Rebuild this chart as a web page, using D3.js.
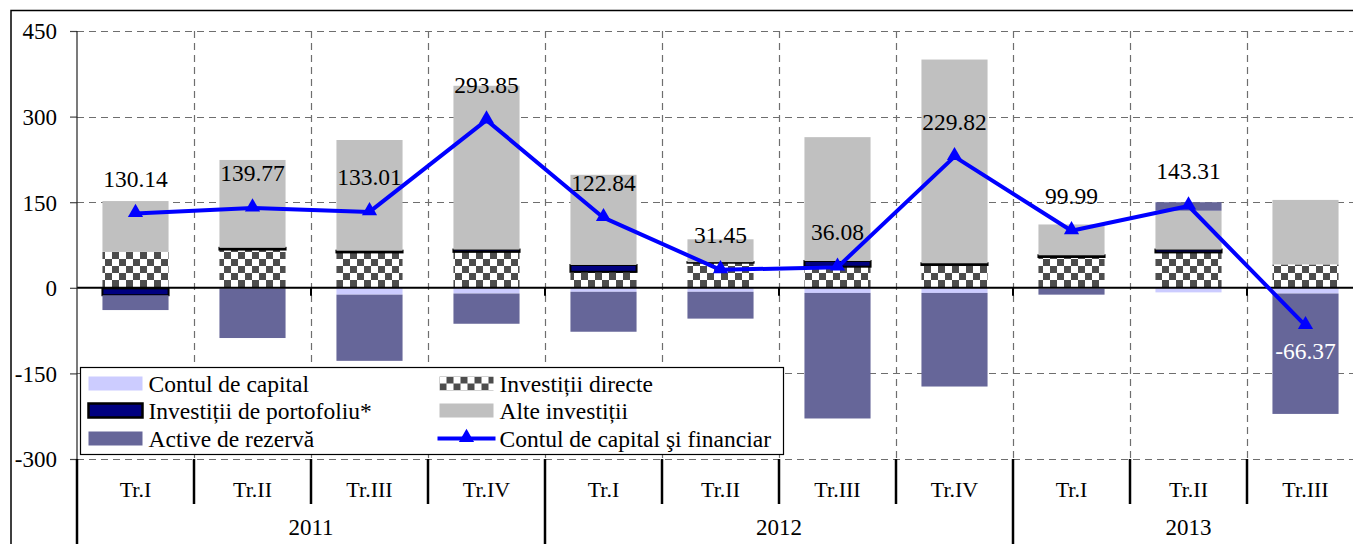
<!DOCTYPE html>
<html>
<head>
<meta charset="utf-8">
<script src="https://cdn.jsdelivr.net/npm/d3@7"></script>
<style>
  body { margin: 0; background: #fff; }
  svg { display: block; }
  svg text { font-family: "Liberation Serif", "Times New Roman", "DejaVu Serif", serif; }
</style>
</head>
<body>
<svg id="chart"></svg>
<script>
// data
const quarters = ["Tr.I", "Tr.II", "Tr.III", "Tr.IV", "Tr.I", "Tr.II", "Tr.III", "Tr.IV", "Tr.I", "Tr.II", "Tr.III"];
const years = ["2011", "2012", "2013"];
const quartersPerYear = [4, 4, 3];

const capitalAccount = [-1, -1, -12, -10, -7, -7, -9, -9, -2, -8, -10];
const directInvest = [63, 67, 62, 63, 28, 44, 37, 40, 54, 62, 41];
const portfolioInvest = [-12, 3, 3, 4, 12, 1, 10, 3, 3, 5, 0];
const otherInvest = [89, 154, 194, 287, 158, 40, 217, 357, 54, 68, 113];
const reserveAssets = [-26, -87, -116, -53, -70, -47, -220, -164, -10, 15, -211];
const capFinAccount = [130.14, 139.77, 133.01, 293.85, 122.84, 31.45, 36.08, 229.82, 99.99, 143.31, -66.37];

const yTicks = [-300, -150, 0, 150, 300, 450];

const seriesNames = {
  capital: "Contul de capital",
  direct: "Investiții directe",
  portfolio: "Investiții de portofoliu*",
  other: "Alte investiții",
  reserves: "Active de rezervă",
  line: "Contul de capital şi financiar"
};

// ---------------------------------------------------------------------------
const W = 1353, H = 544;
const plot = { left: 77, right: 1364, top: 31, bottom: 459 };
const COLORS = {
  capital: "#ccccff",
  portfolio: "#000080",
  other: "#c0c0c0",
  reserves: "#666699",
  line: "#0000ff",
  grid: "#6e6e6e"
};
const FONT = "'Liberation Serif', 'Times New Roman', serif";

const svg = d3.select("#chart").attr("width", W).attr("height", H);

// checkerboard pattern for direct investments
const defs = svg.append("defs");
const pat = defs.append("pattern")
  .attr("id", "checker")
  .attr("patternUnits", "userSpaceOnUse")
  .attr("width", 14).attr("height", 14);
pat.append("rect").attr("width", 14).attr("height", 14).attr("fill", "#fff");
pat.append("rect").attr("width", 7).attr("height", 7).attr("fill", "#4d4d4d");
pat.append("rect").attr("x", 7).attr("y", 7).attr("width", 7).attr("height", 7).attr("fill", "#4d4d4d");

const rows = quarters.map((q, i) => ({
  i,
  capital: capitalAccount[i],
  direct: directInvest[i],
  portfolio: portfolioInvest[i],
  other: otherInvest[i],
  reserves: reserveAssets[i]
}));

const keys = ["capital", "direct", "portfolio", "other", "reserves"];
const stacked = d3.stack().keys(keys).offset(d3.stackOffsetDiverging)(rows);

const x = d3.scaleBand()
  .domain(d3.range(quarters.length))
  .range([plot.left, plot.right])
  .paddingInner(0.435)
  .paddingOuter(0.2175);
const step = x.step();
const boundary = i => plot.left + i * step;

const y = d3.scaleLinear().domain([-300, 450]).range([plot.bottom, plot.top]);

// outer frame
svg.append("path")
  .attr("d", `M11,${H + 2} V10.5 H${W + 2}`)
  .attr("fill", "none").attr("stroke", "#000").attr("stroke-width", 1.5);

// gridlines
const grid = svg.append("g").attr("stroke", COLORS.grid).attr("stroke-width", 1.2)
  .attr("stroke-dasharray", "7,5");
grid.selectAll("line.h")
  .data(yTicks.filter(v => v !== 0))
  .join("line")
  .attr("x1", plot.left).attr("x2", plot.right)
  .attr("y1", d => Math.round(y(d)) + 0.5).attr("y2", d => Math.round(y(d)) + 0.5);
grid.selectAll("line.v")
  .data(d3.range(1, quarters.length))
  .join("line")
  .attr("x1", d => Math.round(boundary(d)) + 0.5).attr("x2", d => Math.round(boundary(d)) + 0.5)
  .attr("y1", plot.top).attr("y2", plot.bottom);

// bars
const fillFor = k => k === "direct" ? "url(#checker)" : COLORS[k];
svg.append("g").selectAll("g")
  .data(stacked)
  .join("g")
  .attr("fill", d => fillFor(d.key))
  .attr("stroke", d => d.key === "portfolio" ? "#000" : "none")
  .attr("stroke-width", 2)
  .selectAll("rect")
  .data(d => d.filter(s => s[0] !== s[1]))
  .join("rect")
  .attr("x", d => x(d.data.i))
  .attr("width", x.bandwidth())
  .attr("y", d => y(Math.max(d[0], d[1])))
  .attr("height", d => Math.abs(y(d[0]) - y(d[1])));

// zero line + small ticks
svg.append("line")
  .attr("x1", plot.left).attr("x2", plot.right)
  .attr("y1", y(0)).attr("y2", y(0))
  .attr("stroke", "#000").attr("stroke-width", 2);
svg.append("g").selectAll("line")
  .data(d3.range(2, quarters.length, 2))
  .join("line")
  .attr("x1", d => boundary(d)).attr("x2", d => boundary(d))
  .attr("y1", y(0)).attr("y2", y(0) + 8)
  .attr("stroke", "#000").attr("stroke-width", 2);

// y axis
const yAxis = svg.append("g")
  .attr("transform", `translate(${plot.left},0)`)
  .call(d3.axisLeft(y).tickValues(yTicks).tickSize(7).tickPadding(13).tickFormat(d => String(d)));
yAxis.attr("font-family", FONT).attr("font-size", 23);
yAxis.select(".domain").remove();
yAxis.selectAll(".tick line").attr("stroke", "#444").attr("stroke-width", 1.2);
yAxis.selectAll("text").attr("fill", "#000").attr("dy", "0.34em");
svg.append("line")
  .attr("x1", plot.left).attr("x2", plot.left)
  .attr("y1", plot.top).attr("y2", plot.bottom)
  .attr("stroke", "#222").attr("stroke-width", 1.2);
svg.append("line")
  .attr("x1", plot.left).attr("x2", plot.left)
  .attr("y1", plot.bottom).attr("y2", H)
  .attr("stroke", "#000").attr("stroke-width", 2.5);

// category axis (quarters + years)
svg.append("g").selectAll("text")
  .data(quarters)
  .join("text")
  .attr("x", (d, i) => x(i) + x.bandwidth() / 2)
  .attr("y", 497)
  .attr("text-anchor", "middle")
  .attr("font-size", 22)
  .text(d => d);

const yearStarts = d3.cumsum([0, ...quartersPerYear]);
const yearEdges = new Set(Array.from(yearStarts).slice(0, -1));
svg.append("g").selectAll("line")
  .data(d3.range(1, quarters.length))
  .join("line")
  .attr("x1", d => boundary(d)).attr("x2", d => boundary(d))
  .attr("y1", plot.bottom).attr("y2", d => yearEdges.has(d) ? H : 504)
  .attr("stroke", "#000").attr("stroke-width", 2.5);

svg.append("g").selectAll("text")
  .data(years)
  .join("text")
  .attr("x", (d, i) => {
    const a = boundary(yearStarts[i]);
    const b = Math.min(boundary(yearStarts[i + 1]), plot.right);
    return (a + b) / 2;
  })
  .attr("y", 535)
  .attr("text-anchor", "middle")
  .attr("font-size", 23)
  .text(d => d);

// line series
const cx = i => x(i) + x.bandwidth() / 2;
svg.append("path")
  .datum(capFinAccount)
  .attr("fill", "none")
  .attr("stroke", COLORS.line)
  .attr("stroke-width", 4)
  .attr("stroke-linejoin", "round")
  .attr("d", d3.line().x((d, i) => cx(i)).y(d => y(d)));

const tri = d3.symbol().type(d3.symbolTriangle).size(100);
svg.append("g").selectAll("path")
  .data(capFinAccount)
  .join("path")
  .attr("transform", (d, i) => `translate(${cx(i)},${y(d) - 1})`)
  .attr("d", tri)
  .attr("fill", COLORS.line);

svg.append("g").selectAll("text")
  .data(capFinAccount)
  .join("text")
  .attr("x", (d, i) => cx(i))
  .attr("y", d => d >= 0 ? y(d) - 27 : y(d) + 33)
  .attr("text-anchor", "middle")
  .attr("font-size", 23.5)
  .attr("fill", d => d >= 0 ? "#000" : "#fff")
  .text(d => d.toFixed(2));

// legend
const legend = svg.append("g").attr("transform", "translate(80.5,367.5)");
legend.append("rect")
  .attr("width", 703).attr("height", 87)
  .attr("fill", "#fff").attr("stroke", "#000").attr("stroke-width", 1.2);

const legendItems = [
  { key: "capital", col: 0, row: 0 },
  { key: "portfolio", col: 0, row: 1 },
  { key: "reserves", col: 0, row: 2 },
  { key: "direct", col: 1, row: 0 },
  { key: "other", col: 1, row: 1 },
  { key: "line", col: 1, row: 2 }
];
const colX = [8, 359];
const rowY = [16, 43, 71];

const li = legend.selectAll("g.item")
  .data(legendItems)
  .join("g")
  .attr("transform", d => `translate(${colX[d.col]},${rowY[d.row]})`);

li.filter(d => d.key !== "line")
  .append("rect")
  .attr("x", 0).attr("y", -7)
  .attr("width", 54).attr("height", 14)
  .attr("fill", d => fillFor(d.key))
  .attr("stroke", d => d.key === "portfolio" ? "#000" : "none")
  .attr("stroke-width", 2.5);

const lineItem = li.filter(d => d.key === "line");
lineItem.append("line")
  .attr("x1", -2).attr("x2", 56).attr("y1", 0).attr("y2", 0)
  .attr("stroke", COLORS.line).attr("stroke-width", 4);
lineItem.append("path")
  .attr("transform", "translate(27,-1)")
  .attr("d", tri)
  .attr("fill", COLORS.line);

li.append("text")
  .attr("x", 60).attr("y", 8)
  .attr("font-size", 23.5)
  .text(d => seriesNames[d.key]);
</script>
</body>
</html>
